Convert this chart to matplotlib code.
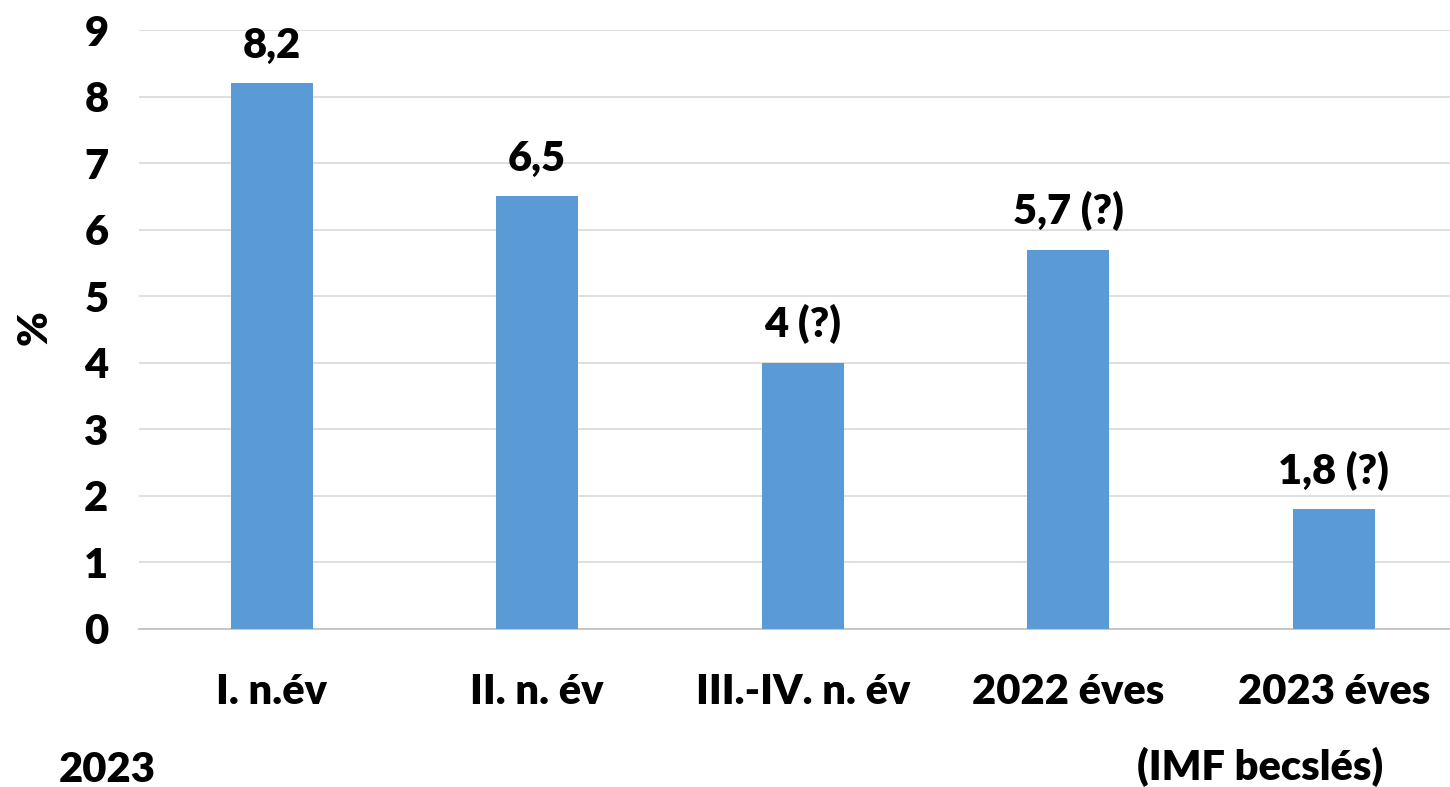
import matplotlib.pyplot as plt

plt.rcParams['font.family'] = ['Lato', 'DejaVu Sans']
plt.rcParams['font.weight'] = 'heavy'

categories = ['I. n.év', 'II. n. év', 'III.-IV. n. év', '2022 éves', '2023 éves']
values = [8.2, 6.5, 4.0, 5.7, 1.8]
labels = ['8,2', '6,5', '4 (?)', '5,7 (?)', '1,8 (?)']

fs = 30

fig = plt.figure(figsize=(14.5, 7.87), dpi=100)
ax = fig.add_axes([139 / 1450, 1 - 629 / 787, 1327.5 / 1450, 599 / 787])

x = range(len(categories))
ax.bar(x, values, width=0.31, color='#5b9bd5', zorder=3)
for xi, v, lab in zip(x, values, labels):
    ax.text(xi, v + 0.28, lab, ha='center', va='bottom', fontsize=fs)

ax.set_xlim(-0.5, 4.5)
ax.set_ylim(0, 9)
ax.set_yticks(range(10))
ax.yaxis.grid(True, color='#d9d9d9', linewidth=1.2, zorder=0)
ax.set_xticks(list(x))
ax.set_xticklabels(categories, fontsize=fs)
ax.tick_params(axis='y', labelsize=fs, length=0, pad=22)
ax.tick_params(axis='x', length=0, pad=32)
for s in ['top', 'right', 'left']:
    ax.spines[s].set_visible(False)
ax.spines['bottom'].set_color('#bfbfbf')
ax.spines['bottom'].set_linewidth(1.2)

fig.text(35 / 1450, 1 - 328 / 787, '%', rotation=90, ha='center', va='center', fontsize=fs)
fig.text(107 / 1450, 1 - 770 / 787, '2023', ha='center', va='center', fontsize=fs)
fig.text(1260 / 1450, 1 - 767 / 787, '(IMF becslés)', ha='center', va='center', fontsize=fs)

fig.savefig('out.png', dpi=100)
